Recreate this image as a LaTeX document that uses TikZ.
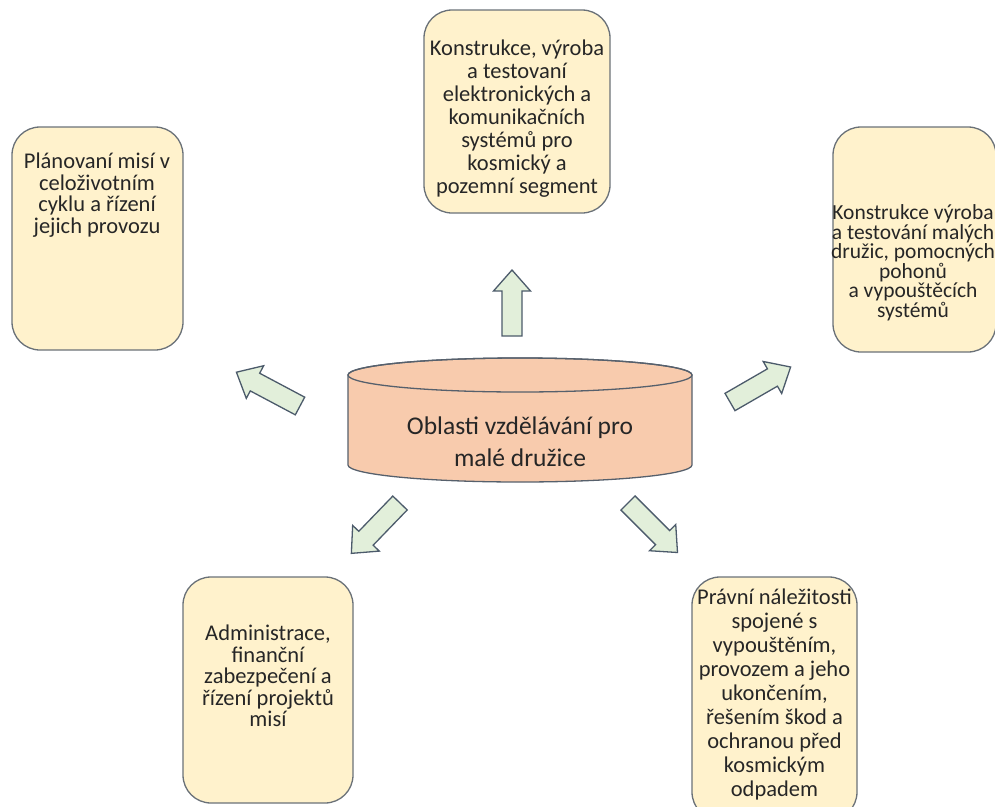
\documentclass[tikz,border=0pt]{standalone}
\usepackage{fontspec}
\setmainfont{Carlito}

\definecolor{boxfill}{HTML}{FFF2CC}
\definecolor{boxline}{HTML}{6A7178}
\definecolor{corefill}{HTML}{F8CBAD}
\definecolor{coreline}{HTML}{56606C}
\definecolor{arrowfill}{HTML}{E2EFDA}
\definecolor{arrowline}{HTML}{4C5B6B}
\definecolor{ink}{HTML}{262626}

\begin{document}
\begin{tikzpicture}[x=1pt, y=-1pt, line width=1.3pt,
                    area box/.style={draw=boxline, fill=boxfill, rounded corners=28pt, inner sep=0pt},
                    area text/.style={align=center, text=ink, inner sep=0pt, font=\fontsize{22.5}{23}\selectfont},
                    block arrow/.style={draw=arrowline, fill=arrowfill, line join=miter}]

  \useasboundingbox (0,0) rectangle (995,806);
  \clip (0,0) rectangle (995,806);

  % centre cylinder
  \filldraw[draw=coreline, fill=corefill] (348,375) -- (348,465)
    arc[start angle=180, end angle=360, x radius=172pt, y radius=17pt] -- (692,375)
    arc[start angle=0, end angle=180, x radius=172pt, y radius=17pt] -- cycle;
  \draw[coreline] (520,375) ellipse [x radius=172pt, y radius=17pt];
  \node[text=ink, align=center, font=\fontsize{25.5}{32}\selectfont] (core) at (520,442)
    {Oblasti vzdělávání pro\\malé družice};

  % areas
  \node[area box, minimum width=186pt, minimum height=203pt] (build) at (517,111.5) {};
  \node[area text] (buildtext) at (517,119)
    {Konstrukce, výroba\\a testovaní\\elektronických a\\komunikačních\\systémů pro\\kosmický a\\pozemní segment};

  \node[area box, minimum width=171pt, minimum height=223pt] (plan) at (97.5,238.5) {};
  \node[area text, font=\fontsize{22.5}{21.5}\selectfont] (plantext) at (97,195)
    {Plánovaní misí v\\celoživotním\\cyklu a řízení\\jejich provozu};

  \node[area box, minimum width=163pt, minimum height=225pt] (sat) at (914.5,239.5) {};
  \node[area text, font=\fontsize{21.5}{19.5}\selectfont] (sattext) at (913,263)
    {Konstrukce výroba\\a testování malých\\družic, pomocných\\pohonů\\a vypouštěcích\\systémů};

  \node[area box, minimum width=170pt, minimum height=226pt] (admin) at (268,690) {};
  \node[area text, font=\fontsize{22.5}{21.5}\selectfont] (admintext) at (268,676)
    {Administrace,\\finanční\\zabezpečení a\\řízení projektů\\misí};

  \node[area box, minimum width=165pt, minimum height=243pt] (law) at (774.5,698.5) {};
  \node[area text, font=\fontsize{22.5}{24}\selectfont] (lawtext) at (774.5,694)
    {Právní náležitosti\\spojené s\\vypouštěním,\\provozem a jeho\\ukončením,\\řešením škod a\\ochranou před\\kosmickým\\odpadem};

  % block arrows
  \foreach \x/\y/\a/\l in {512/336/90/66, 300/406/152/72, 730/402/30/70, 400/503/226/70, 628/503/-45/70}
    \draw[block arrow, shift={(\x,\y)}, rotate=\a]
      (0,-10) -- ({\l-21},-10) -- ({\l-21},-18.5) -- (\l,0) -- ({\l-21},18.5) -- ({\l-21},10) -- (0,10) -- cycle;
\end{tikzpicture}
\end{document}
